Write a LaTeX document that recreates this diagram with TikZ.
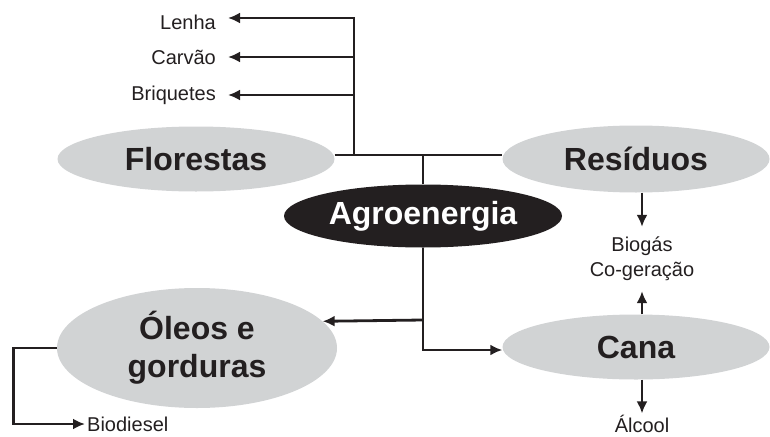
\documentclass[tikz,border=0pt]{standalone}
\usepackage{fontspec}
\setmainfont{Liberation Sans}
\usetikzlibrary{shapes.geometric,arrows.meta}
\definecolor{ink}{RGB}{35,31,32}
\definecolor{paleg}{RGB}{209,211,212}

\begin{document}
\begin{tikzpicture}[
    x=1pt, y=-1pt,
    source/.style={ellipse, fill=paleg, text=ink, inner sep=0pt, align=center, font=\fontsize{32}{38}\selectfont\bfseries},
    hub/.style={ellipse, fill=ink, text=white, inner sep=0pt, font=\fontsize{32}{38}\selectfont\bfseries},
    product/.style={text=ink, inner sep=0pt, align=center, font=\fontsize{20}{25}\selectfont},
    link/.style={draw=ink, line width=2.8pt},
    arrow/.style={link, -{Latex[length=12pt,width=11pt]}}
]
    \useasboundingbox (0,0) rectangle (770,436);

    \node[source, minimum width=277pt, minimum height=65pt] (flor) at (196,159) {Florestas};
    \node[source, minimum width=267pt, minimum height=67pt] (resid) at (636,159) {Resíduos};
    \node[hub, minimum width=278pt, minimum height=63pt] (agro) at (423,216) {Agroenergia};
    \node[source, minimum width=280pt, minimum height=120pt] (oleos) at (197,348) {Óleos e\\gorduras};
    \node[source, minimum width=267pt, minimum height=65pt] (cana) at (636,347) {Cana};

    \node[product, anchor=east, inner xsep=12pt] (lenha) at (228,22) {Lenha};
    \node[product, anchor=east, inner xsep=12pt] (carvao) at (228,57) {Carvão};
    \node[product, anchor=east, inner xsep=12pt] (briq) at (228,95) {Briquetes};
    \node[product, inner ysep=10pt] (biogas) at (642,259) {Biogás\\Co-geração};
    \node[product, anchor=base, inner ysep=1pt] (alcool) at (642,432) {Álcool};
    \node[product, anchor=west, inner xsep=2pt] (biodiesel) at (85,424) {Biodiesel};

    \coordinate (split) at (354,155);
    \coordinate (fork) at (423,320);

    \draw[link] ([yshift=4pt]flor.east) -- ([yshift=4pt]resid.west);
    \draw[arrow] (split) |- ([yshift=4pt]lenha.east);
    \draw[arrow] (split) |- (carvao.east);
    \draw[arrow] (split) |- (briq.east);
    \draw[link] (agro.north) -- (agro.north |- split);
    \draw[arrow] (fork) -- (oleos.12.7);
    \draw[arrow] (agro.south) |- ([yshift=-3pt]cana.west);
    \draw[arrow] (biogas.north |- resid.south) -- (biogas.north);
    \draw[arrow] (biogas.south |- cana.north) -- (biogas.south);
    \draw[arrow] (alcool.north |- cana.south) -- (alcool.north);
    \draw[arrow] (oleos.west) -- ++(-43,0) |- (biodiesel.west);
\end{tikzpicture}
\end{document}
